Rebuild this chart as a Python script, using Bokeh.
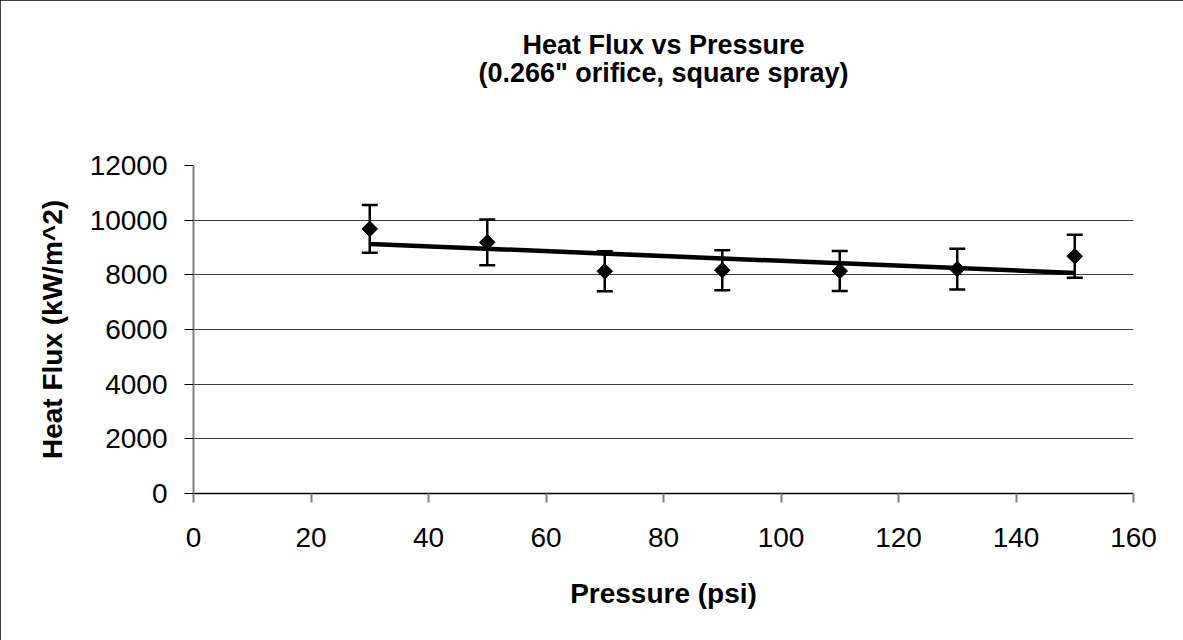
import numpy as np
from bokeh.plotting import figure
from bokeh.models import ColumnDataSource, Whisker, TeeHead, FixedTicker, Title
from bokeh.embed import file_html
from bokeh.resources import INLINE

# Data
pressure = [30, 50, 70, 90, 110, 130, 150]
heat_flux = [9680, 9190, 8130, 8170, 8140, 8210, 8680]
error = [875, 835, 730, 730, 730, 745, 785]
x_ticks = [0, 20, 40, 60, 80, 100, 120, 140, 160]
y_ticks = [0, 2000, 4000, 6000, 8000, 10000, 12000]

title_line1 = "Heat Flux vs Pressure"
title_line2 = "(0.266\" orifice, square spray)"
x_label = "Pressure (psi)"
y_label = "Heat Flux (kW/m^2)"

FONT = "Liberation Sans"

source = ColumnDataSource(dict(
    x=pressure,
    y=heat_flux,
    upper=[h + e for h, e in zip(heat_flux, error)],
    lower=[h - e for h, e in zip(heat_flux, error)],
))

# linear trendline fitted to the data
slope, intercept = np.polyfit(pressure, heat_flux, 1)
trend_x = [min(pressure), max(pressure)]
trend_y = [slope * v + intercept for v in trend_x]

p = figure(width=1183, height=640, x_range=(0, 160), y_range=(0, 12000),
           output_backend="svg", toolbar_location=None,
           min_border_left=193, min_border_right=50,
           min_border_top=165, min_border_bottom=147)
p.styles = {"outline": "2px solid black", "outline-offset": "-2px"}
p.outline_line_color = None
p.background_fill_color = "white"
p.border_fill_color = "white"

# spacer between the frame and the two title lines
spacer = Title(text=" ", text_font=FONT, text_font_size="1px", standoff=77)
p.add_layout(spacer, "above")

sub = Title(text=title_line2, align="center", text_font=FONT,
            text_font_size="27px", text_font_style="bold", text_color="black",
            offset=-70, standoff=-4)
p.add_layout(sub, "above")

p.title.text = title_line1
p.title.align = "center"
p.title.text_font = FONT
p.title.text_font_size = "27px"
p.title.text_font_style = "bold"
p.title.text_color = "black"
p.title.offset = -70
p.title.standoff = -4

p.xaxis.ticker = FixedTicker(ticks=x_ticks)
p.yaxis.ticker = FixedTicker(ticks=y_ticks)
p.xgrid.grid_line_color = None
p.ygrid.grid_line_color = "#404040"
p.ygrid.grid_line_width = 1

for ax in (p.xaxis, p.yaxis):
    ax.major_label_text_font = FONT
    ax.major_label_text_font_size = "28px"
    ax.major_label_text_color = "black"
    ax.axis_label_text_font = FONT
    ax.axis_label_text_font_size = "28px"
    ax.axis_label_text_font_style = "bold"
    ax.axis_label_text_color = "black"
    ax.minor_tick_line_color = None
    ax.major_tick_in = 0

p.xaxis.axis_label = x_label
p.yaxis.axis_label = y_label

p.xaxis.axis_line_color = "black"
p.xaxis.axis_line_width = 1.5
p.xaxis.major_tick_line_color = "#808080"
p.xaxis.major_tick_line_width = 2
p.xaxis.major_tick_out = 9
p.xaxis.major_label_standoff = 25
p.xaxis.axis_label_standoff = 28

p.yaxis.axis_line_color = "#808080"
p.yaxis.axis_line_width = 2
p.yaxis.major_tick_line_color = "black"
p.yaxis.major_tick_line_width = 1
p.yaxis.major_tick_out = 9
p.yaxis.major_label_standoff = 17
p.yaxis.axis_label_standoff = 19

whisker = Whisker(source=source, base="x", upper="upper", lower="lower",
                  line_color="black", line_width=2.5,
                  upper_head=TeeHead(size=16, line_color="black", line_width=2.5),
                  lower_head=TeeHead(size=16, line_color="black", line_width=2.5))
p.add_layout(whisker)

p.line(trend_x, trend_y, line_color="black", line_width=4.5)

p.scatter(x="x", y="y", source=source, marker="square", angle=np.pi / 4,
          size=11, fill_color="black", line_color="black")

open("out.html", "w").write(file_html(p, INLINE))
